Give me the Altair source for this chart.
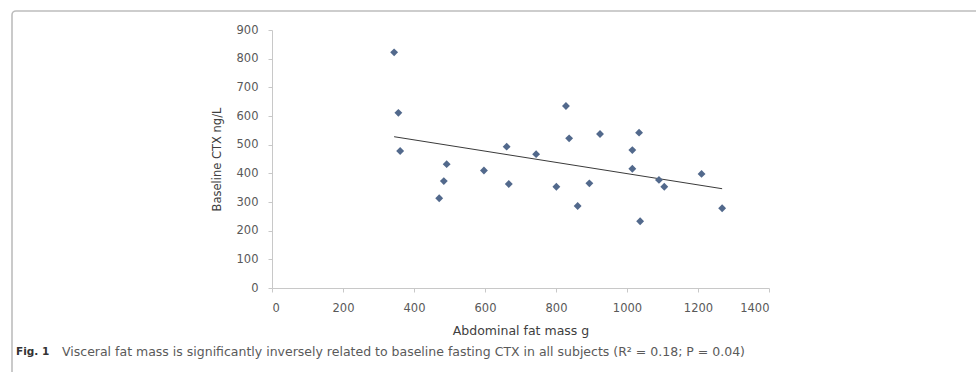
import altair as alt
import pandas as pd

# Abdominal fat mass (g) and baseline fasting CTX (ng/L) per subject
fat_mass = [344, 356, 361, 471, 484, 492, 597, 661, 667, 744, 801, 828,
            837, 861, 894, 924, 1015, 1015, 1034, 1037, 1090, 1105, 1210, 1268]
ctx = [822, 611, 478, 313, 373, 432, 410, 493, 363, 467, 353, 635,
       522, 286, 365, 537, 481, 416, 542, 233, 377, 353, 398, 278]

x_ticks = [0, 200, 400, 600, 800, 1000, 1200, 1400]
y_ticks = [0, 100, 200, 300, 400, 500, 600, 700, 800, 900]

caption_lead = "Fig. 1"
caption_body = ("Visceral fat mass is significantly inversely related to baseline "
                "fasting CTX in all subjects (R² = 0.18; P = 0.04)")

df = pd.DataFrame({"fat": fat_mass, "ctx": ctx})

W, H = 497, 258
LEFT, TOP = 272, 30
FONT = "DejaVu Sans"

axis_style = dict(grid=False, domainColor="#c8c8c8", tickColor="#c8c8c8",
                  tickSize=4, labelPadding=10, labelFontSize=11.5,
                  labelColor="#595959", labelFont=FONT, labelOverlap=False,
                  format="d", titleFont=FONT, titleFontWeight="normal",
                  titleColor="#404040", titleBaseline="middle")

x_enc = alt.X("fat:Q",
              scale=alt.Scale(domain=[0, 1400], nice=False),
              axis=alt.Axis(values=x_ticks, title="Abdominal fat mass g",
                            titleFontSize=12.5, titleY=42, **axis_style))
y_enc = alt.Y("ctx:Q",
              scale=alt.Scale(domain=[0, 900], nice=False),
              axis=alt.Axis(values=y_ticks, title="Baseline CTX ng/L",
                            titleFontSize=11.5, titleX=-55, **axis_style))

base = alt.Chart(df)

points = base.mark_point(shape="diamond", filled=True, size=62,
                         color="#52698c", opacity=1).encode(x=x_enc, y=y_enc)

trend = base.transform_regression("fat", "ctx").mark_line(
    color="#3a3a3a", strokeWidth=1).encode(x=x_enc, y=y_enc)

# Rounded figure frame around the whole panel
frame = alt.Chart(pd.DataFrame({"k": [0]})).mark_rect(
    fill=None, stroke="#bdbdbd", strokeWidth=1.6, cornerRadius=4, clip=False
).encode(x=alt.value(12 - LEFT), x2=alt.value(1000 - LEFT),
         y=alt.value(11 - TOP), y2=alt.value(400 - TOP))

cap_lead = alt.Chart(pd.DataFrame({"t": [caption_lead]})).mark_text(
    align="left", baseline="middle", font=FONT, fontSize=10.5, fontWeight="bold",
    color="#333333"
).encode(x=alt.value(16 - LEFT), y=alt.value(352 - TOP), text="t:N")

cap_body = alt.Chart(pd.DataFrame({"t": [caption_body]})).mark_text(
    align="left", baseline="middle", font=FONT, fontSize=12.5, color="#5a5a5a"
).encode(x=alt.value(62 - LEFT), y=alt.value(352 - TOP), text="t:N")

chart = alt.layer(trend, points, frame, cap_lead, cap_body).properties(
    width=W, height=H,
    padding={"left": LEFT, "top": TOP, "right": 976 - LEFT - W, "bottom": 372 - TOP - H},
    autosize=alt.AutoSizeParams(type="none"),
    background="white",
).configure_view(stroke=None, strokeWidth=0)

chart.save("out.html", embed_options={"renderer": "svg", "actions": False})
